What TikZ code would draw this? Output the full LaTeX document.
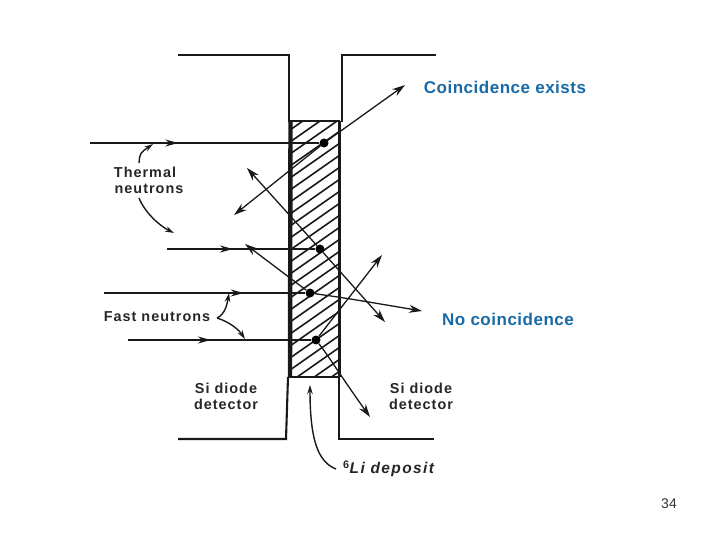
\documentclass[tikz,border=0pt]{standalone}
\usepackage{fontspec}
\setmainfont{Liberation Sans}
\usetikzlibrary{arrows.meta,decorations.markings}
\definecolor{labelblue}{RGB}{24,106,166}
\tikzset{
  wall/.style={line width=2.1pt,black!90},
  hatchline/.style={line width=1.6pt,black!90},
  neutron/.style={line width=1.5pt,black!90,postaction={decorate},
    decoration={markings,mark=at position #1 with {\arrow{Stealth[length=13pt,width=7pt]}}}},
  fragment/.style={line width=1.3pt,black!90,-{Stealth[length=13pt,width=8pt]}},
  leader/.style={line width=1.4pt,black!90,-{Stealth[length=9pt,width=5.5pt]}},
  dotmark/.style={circle,fill=black,inner sep=0pt,minimum size=9pt},
  scan/.style={font=\bfseries\fontsize{14.4pt}{16pt}\selectfont\addfontfeatures{LetterSpace=7},text=black!85,align=center,inner sep=0pt},
  bluelabel/.style={font=\bfseries\fontsize{17pt}{19pt}\selectfont\addfontfeatures{LetterSpace=3},text=labelblue,inner sep=0pt}
}
\begin{document}
\begin{tikzpicture}[x=1pt,y=-1pt]
\useasboundingbox (0,0) rectangle (720,540);
% walls
\coordinate (tl0) at (178,55); \coordinate (tl1) at (289,55); \coordinate (tl2) at (289,122);
\coordinate (tr0) at (436,55); \coordinate (tr1) at (342,55); \coordinate (tr2) at (342,122);
\coordinate (bl0) at (178,439); \coordinate (bl1) at (286,439); \coordinate (bl2) at (288,377);
\coordinate (br0) at (434,439); \coordinate (br1) at (339,439); \coordinate (br2) at (339,377);
\draw[wall] (tl0) -- (tl1) -- (tl2);
\draw[wall] (tr0) -- (tr1) -- (tr2);
\draw[wall] (bl0) -- (bl1) -- (bl2);
\draw[wall] (br0) -- (br1) -- (br2);
% hatching
\begin{scope}
\clip (290,121) rectangle (339,377);
\foreach \k in {0,...,26}{
  \draw[hatchline] (280,{137+\k*12}) -- (350,{88+\k*12});
}
\end{scope}
\draw[line width=1.6pt,black!90] (289,121) -- (340,121);
\draw[line width=1.6pt,black!90] (288,377) -- (340,377);
\draw[line width=4.4pt,black!90] (290.5,121) -- (290,377);
\draw[line width=3.2pt,black!90] (339.5,121) -- (339.5,377);
% interaction points
\node[dotmark] (d1) at (324,143) {};
\node[dotmark] (d2) at (320,249) {};
\node[dotmark] (d3) at (310,293) {};
\node[dotmark] (d4) at (316,340) {};
% neutrons
\coordinate (n1) at (90,143);
\coordinate (n2) at (167,249);
\coordinate (n3) at (104,293);
\coordinate (n4) at (128,340);
\draw[neutron=0.385] (n1) -- (d1);
\draw[neutron=0.445] (n2) -- (d2);
\draw[neutron=0.694] (n3) -- (d3);
\draw[neutron=0.452] (n4) -- (d4);
% fragments
\coordinate (f1a) at (405,85); \coordinate (f1b) at (234,215);
\coordinate (f2a) at (247,168); \coordinate (f2b) at (385,322);
\coordinate (f3a) at (245,244); \coordinate (f3b) at (422,311);
\coordinate (f4a) at (382,255); \coordinate (f4b) at (370,417);
\draw[fragment] (d1) -- (f1a);
\draw[fragment] (d1) -- (f1b);
\draw[fragment] (d2) -- (f2a);
\draw[fragment] (d2) -- (f2b);
\draw[fragment] (d3) -- (f3a);
\draw[fragment] (d3) .. controls (345,298) .. (f3b);
\draw[fragment] (d4) -- (f4a);
\draw[fragment] (d4) .. controls (330,358) and (338,372) .. (f4b);
% labels
\node[scan] (thermal) at (145,180) {Thermal\\\hspace*{8pt}neutrons};
\node[scan] (fast) at (157,317) {Fast neutrons};
\node[scan] (siL) at (226,396) {Si diode\\detector};
\node[scan] (siR) at (421,396) {Si diode\\detector};
\node[scan,anchor=west,font=\bfseries\fontsize{15.5pt}{17pt}\selectfont\addfontfeatures{LetterSpace=9}] (li) at (343,469) {$^{\mathbf{6}}$\textit{Li deposit}};
\node[bluelabel] (co) at (505,87) {Coincidence exists};
\node[bluelabel] (nc) at (508,319) {No coincidence};
\node[font=\fontsize{14pt}{16pt}\selectfont,text=black!80,inner sep=0pt] (pg) at (669,504) {34};
% leaders
\coordinate (tht) at (139,163); \coordinate (thh) at (153,144);
\coordinate (thb) at (139,198); \coordinate (thc) at (174,233);
\coordinate (fa) at (217,318); \coordinate (fb) at (229,293); \coordinate (fc) at (245,339);
\coordinate (lih) at (310,385); \coordinate (lit) at (336,469);
\draw[leader] (tht) .. controls (140,153) .. (thh);
\draw[leader] (thb) .. controls (145,213) and (160,226) .. (thc);
\draw[leader] (fa) .. controls (225,314) and (227,305) .. (fb);
\draw[leader] (fa) .. controls (230,322) and (239,330) .. (fc);
\draw[leader] (lit) .. controls (318,462) and (310,440) .. (lih);
\end{tikzpicture}
\end{document}
